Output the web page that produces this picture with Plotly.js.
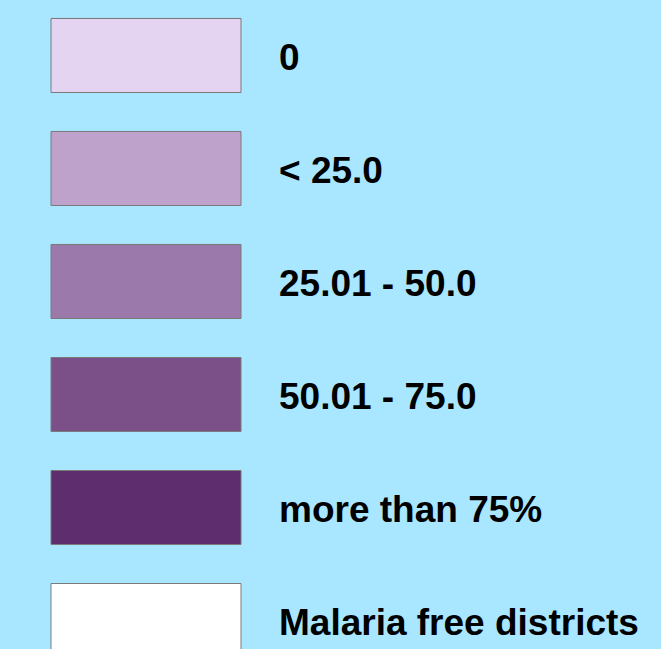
<!DOCTYPE html>
<html>
<head>
<meta charset="utf-8">
<script src="https://cdn.plot.ly/plotly-3.0.1.min.js"></script>
<style>html,body{margin:0;padding:0;background:#a9e6ff;}#chart{width:661px;height:649px;}</style>
</head>
<body>
<div id="chart"></div>
<script>
const categories = ["0", "< 25.0", "25.01 - 50.0", "50.01 - 75.0", "more than 75%", "Malaria free districts"];
const swatchColors = ["#e4d4f2", "#bfa2cb", "#9c79ab", "#7b5088", "#5d2d6d", "#ffffff"];
const swatchValues = [1, 1, 1, 1, 1, 1];
const labelPos = [1, 1, 1, 1, 1, 1];

const BG = "#a9e6ff";
const SW_LEFT = 51, SW_WIDTH = 190, LABEL_X = 279;

const bars = {
  type: "bar",
  orientation: "h",
  y: categories,
  x: swatchValues.map(v => v * SW_WIDTH),
  base: SW_LEFT,
  width: 0.655,
  marker: {color: swatchColors, line: {color: "#7a7a7a", width: 1}},
  hoverinfo: "skip",
  showlegend: false
};
const labels = {
  type: "scatter",
  mode: "text",
  y: categories,
  yaxis: "y2",
  x: labelPos.map(v => v * LABEL_X),
  text: categories,
  textposition: "middle right",
  textfont: {family: "Liberation Sans, Arial, sans-serif", size: 37, color: "#000", weight: 700},
  hoverinfo: "skip",
  showlegend: false
};
const layout = {
  width: 661, height: 649,
  margin: {l: 0, r: 0, t: 0, b: 0, pad: 0},
  paper_bgcolor: BG, plot_bgcolor: BG,
  xaxis: {range: [0, 661], visible: false, fixedrange: true},
  yaxis: {type: "category", range: [5.252, -0.491], visible: false, fixedrange: true},
  yaxis2: {type: "category", overlaying: "y", range: [5.205, -0.538], visible: false, fixedrange: true},
  showlegend: false
};
Plotly.newPlot("chart", [bars, labels], layout, {staticPlot: true, displayModeBar: false});
</script>
</body>
</html>
